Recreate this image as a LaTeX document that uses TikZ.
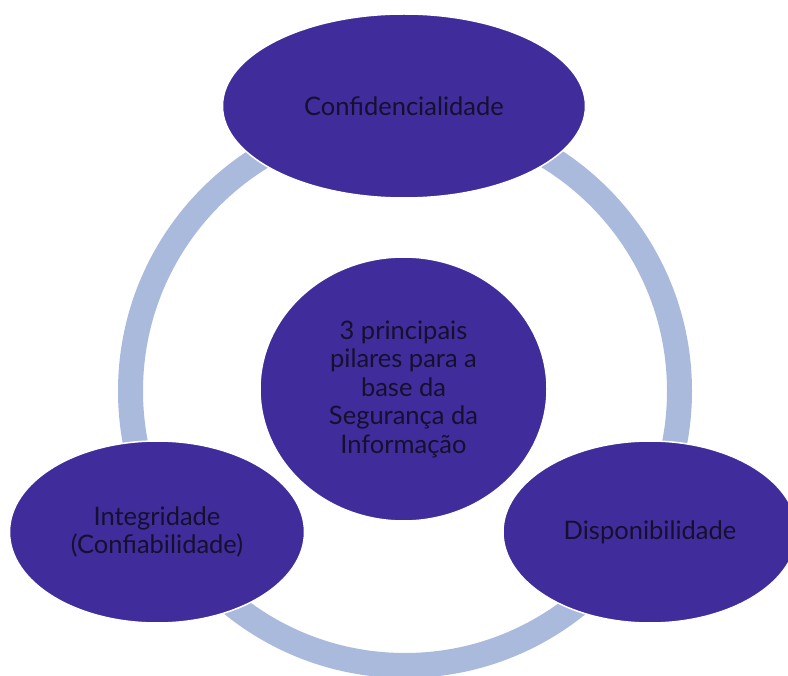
\documentclass[tikz,border=0pt]{standalone}
\usepackage{fontspec}
\setmainfont{Lato}
\usetikzlibrary{shapes.geometric}
\definecolor{pillar}{HTML}{402D9B}
\definecolor{ringc}{HTML}{AABADC}
\definecolor{txt}{HTML}{15102E}
\tikzset{
  pillarnode/.style={ellipse, fill=pillar, draw=white, line width=1.5pt, inner sep=0pt,
    text=txt, align=center, font=\fontsize{25.5}{28.5}\selectfont},
}
\begin{document}
\begin{tikzpicture}[x=1pt, y=-1pt]
\useasboundingbox (0,0) rectangle (788,676);
\fill[white] (0,0) rectangle (788,676);
\coordinate (ringc) at (405,391);
\draw[ringc, line width=25pt] (ringc) circle [radius=274.5pt];
\node[pillarnode, minimum width=287pt, minimum height=264pt] (center) at (403.5,389)
  {3 principais\\pilares para a\\base da\\Segurança da\\Informação};
\node[pillarnode, minimum width=363pt, minimum height=184pt] (conf) at (404,106) {Confidencialidade};
\node[pillarnode, minimum width=295pt, minimum height=182pt] (integ) at (157,532) {Integridade\\(Confiabilidade)};
\node[pillarnode, minimum width=294pt, minimum height=182pt] (disp) at (650,532) {Disponibilidade};
\end{tikzpicture}
\end{document}
